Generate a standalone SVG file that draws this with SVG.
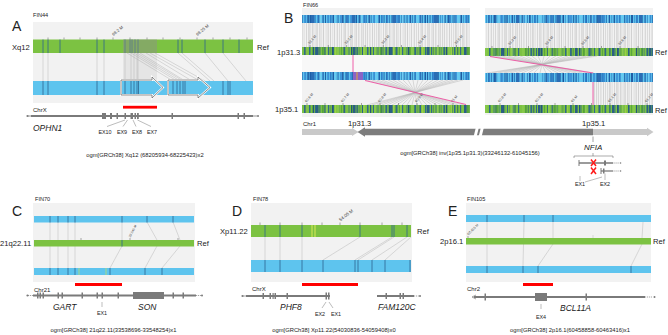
<svg xmlns="http://www.w3.org/2000/svg" width="668" height="335" viewBox="0 0 668 335">
<defs>
<style>
text{font-family:"Liberation Sans",Arial,sans-serif;fill:#222}
.lbl{font-size:7.6px}
.cap{font-size:5.8px}
.fin{font-size:5.6px}
.let{font-size:14px}
.ex{font-size:5.4px;text-anchor:middle}
.gene{font-size:8.5px;font-style:italic}
.chr{font-size:6px}
.tk{font-size:3.5px;fill:#444}
.bg{fill:#f2f2f2}
.gr{fill:#7cc242}
.bl{fill:#5ec4ee}
.dk{stroke:#2f6690;stroke-width:0.8}
.al{stroke:#b9b9b9;stroke-width:0.5;fill:none}
.chl{stroke:#7a7a7a;stroke-width:1.8}
.exn{fill:#7a7a7a}
.red{fill:#ff0000}
.pk{stroke:#ee4fa0;stroke-width:0.9;fill:none}
.tick{stroke:#555;stroke-width:0.5}
</style>
<pattern id="bcB1" width="23" height="10" patternUnits="userSpaceOnUse">
<rect width="23" height="10" fill="#5ec4ee"/>
<rect x="0.5" width="1.2" height="10" fill="#1d5ea8"/>
<rect x="3" width="0.6" height="10" fill="#2b74bd"/>
<rect x="5.2" width="2" height="10" fill="#3a8fd4"/>
<rect x="8" width="0.7" height="10" fill="#1d5ea8"/>
<rect x="10.5" width="1.5" height="10" fill="#1d5ea8"/>
<rect x="13.5" width="0.6" height="10" fill="#2b74bd"/>
<rect x="15.6" width="0.9" height="10" fill="#1d5ea8"/>
<rect x="18" width="2.2" height="10" fill="#3f95d8"/>
<rect x="21.2" width="0.6" height="10" fill="#1d5ea8"/>
</pattern>
<pattern id="bcB2" width="17" height="10" patternUnits="userSpaceOnUse">
<rect x="2" width="0.8" height="10" fill="#1a5299"/>
<rect x="7" width="1.6" height="10" fill="#2f80c8"/>
<rect x="12.5" width="0.7" height="10" fill="#1a5299"/>
</pattern>
<pattern id="bcB3" width="41" height="10" patternUnits="userSpaceOnUse">
<rect x="6" width="2.5" height="10" fill="#66c9f0"/>
<rect x="24" width="3" height="10" fill="#2a6db5"/>
<rect x="33" width="1.5" height="10" fill="#70cdf2"/>
</pattern>
<pattern id="bcG1" width="29" height="10" patternUnits="userSpaceOnUse">
<rect width="29" height="10" fill="#7cc242"/>
<rect x="0.6" width="0.8" height="10" fill="#2f6a8c"/>
<rect x="3.2" width="1.4" height="10" fill="#4a9a3a"/>
<rect x="5.8" width="0.6" height="10" fill="#2f6a8c"/>
<rect x="8.4" width="1.8" height="10" fill="#2f6a8c"/>
<rect x="11.6" width="0.6" height="10" fill="#3d7f60"/>
<rect x="14" width="1" height="10" fill="#2f6a8c"/>
<rect x="16.5" width="0.6" height="10" fill="#b9dc4a"/>
<rect x="19" width="1.5" height="10" fill="#2f6a8c"/>
<rect x="22.3" width="0.7" height="10" fill="#4a9a3a"/>
<rect x="25" width="1.2" height="10" fill="#2f6a8c"/>
</pattern>
<pattern id="bcG2" width="19" height="10" patternUnits="userSpaceOnUse">
<rect x="1.5" width="0.7" height="10" fill="#24577a"/>
<rect x="9" width="1.2" height="10" fill="#24577a"/>
<rect x="15" width="0.6" height="10" fill="#3d7f60"/>
</pattern>
<pattern id="bcG3" width="37" height="10" patternUnits="userSpaceOnUse">
<rect x="4" width="2.5" height="10" fill="#85c84a"/>
<rect x="20" width="2.6" height="10" fill="#2a5f84"/>
<rect x="30" width="1.8" height="10" fill="#8ccc4e"/>
</pattern>
<pattern id="alp" width="11" height="10" patternUnits="userSpaceOnUse">
<rect x="0.3" width="0.5" height="10" fill="#c2c2c2"/>
<rect x="2.6" width="0.5" height="10" fill="#cfcfcf"/>
<rect x="4" width="0.5" height="10" fill="#bdbdbd"/>
<rect x="6.8" width="0.5" height="10" fill="#c8c8c8"/>
<rect x="9.2" width="0.5" height="10" fill="#c4c4c4"/>
</pattern>
<pattern id="alp2" width="7" height="10" patternUnits="userSpaceOnUse">
<rect x="1.5" width="0.5" height="10" fill="#cacaca"/>
<rect x="5" width="0.4" height="10" fill="#d2d2d2"/>
</pattern>
<clipPath id="clipL"><rect x="302" y="8" width="168" height="109"/></clipPath>
<clipPath id="clipR"><rect x="485" y="8" width="168" height="107"/></clipPath>
</defs>

<!-- ================= PANEL A ================= -->
<g id="panelA">
<text class="let" x="12" y="31">A</text>
<text class="fin" x="33" y="17">FIN44</text>
<rect class="bg" x="33" y="22" width="220" height="81"/>
<text class="lbl" x="12" y="50">Xq12</text>
<text class="lbl" x="257" y="50">Ref</text>
<path class="al" d="M43 53V81M48 53V81M97 53V81M104 53V81M125 53V81M131 53V81M134 53V81M137 53V81M138 53V81
M127 53L173 81M131 53L177 81M134 53L180 81M137 53L183 81M140 53L185 81M146 53L192 81M150 53L200 81M155 53L205 81
M178 53L210 81M182 53L214 81M205 53L228 81M223 53L246 81"/>
<rect x="123" y="39.5" width="34" height="41.5" fill="#9a9a9a" opacity="0.15"/>
<rect class="gr" x="33" y="39.5" width="220" height="13.5"/>
<path class="dk" d="M43 39.5V53M48 39.5V53M60 39.5V53M97 39.5V53M104 39.5V53M125 39.5V53M130 39.5V53M132 39.5V53M135 39.5V53M138 39.5V53M178 39.5V53M182 39.5V53M205 39.5V53M223 39.5V53M239 39.5V53"/>
<rect x="123" y="39.5" width="34" height="13.5" fill="#8f8f8f" opacity="0.45"/>
<path class="tick" d="M48 37.5V39.5M64 37.5V39.5M80 37.5V39.5M97 37.5V39.5M113 37.5V39.5M130 37.5V39.5M147 37.5V39.5M163 37.5V39.5M180 37.5V39.5M197 37.5V39.5M213 37.5V39.5M230 37.5V39.5M247 37.5V39.5"/>
<text class="tk" style="font-size:4.2px" transform="translate(113.5 36) rotate(-40)">68.2 M</text>
<text class="tk" style="font-size:4.2px" transform="translate(197.5 36) rotate(-40)">68.25 M</text>
<rect class="bl" x="33" y="81" width="220" height="14"/>
<path class="dk" d="M43 81V95M48 81V95M97 81V95M104 81V95M125 81V95M131 81V95M134 81V95M137 81V95M138.5 81V95M173 81V95M177 81V95M180 81V95M183 81V95M185 81V95M223 81V95M228 81V95M230 81V95"/>
<g fill="none" stroke-linejoin="miter">
<path d="M121 80H152V77L163 87.5L152 98V95H121Z" stroke="#ffffff" stroke-width="2"/>
<path d="M121 80H152V77L163 87.5L152 98V95H121Z" stroke="#5a5a5a" stroke-width="0.7"/>
<path d="M168 80H198V77L210 87.5L198 98V95H168Z" stroke="#ffffff" stroke-width="2"/>
<path d="M168 80H198V77L210 87.5L198 98V95H168Z" stroke="#5a5a5a" stroke-width="0.7"/>
</g>
<rect class="red" x="123" y="105.8" width="34" height="2.8"/>
<text class="chr" x="33" y="111.5">ChrX</text>
<line class="chl" x1="31" y1="116" x2="253" y2="116"/>
<circle cx="27.5" cy="116" r="1.1" fill="#7a7a7a"/>
<line x1="28" y1="116" x2="31" y2="116" stroke="#7a7a7a" stroke-width="0.8"/>
<line x1="253" y1="116" x2="257" y2="116" stroke="#7a7a7a" stroke-width="0.8"/>
<circle cx="258" cy="116" r="1" fill="#7a7a7a"/>
<g class="exn">
<rect x="102" y="113" width="4" height="6"/><rect x="110" y="113" width="2" height="6"/>
<rect x="116.5" y="113" width="1.5" height="6"/><rect x="124.5" y="113" width="1.5" height="6"/>
<rect x="130.5" y="113" width="2.5" height="6"/><rect x="134.5" y="113" width="1.5" height="6"/>
<rect x="137" y="113" width="1.8" height="6"/><rect x="171.5" y="113" width="1.5" height="6"/>
<rect x="237.5" y="113" width="1.5" height="6"/><rect x="243.5" y="113" width="1.5" height="6"/>
</g>
<text class="gene" x="33" y="131">OPHN1</text>
<path stroke="#555" stroke-width="0.4" d="M125 120L107 126.5M127.5 120L123 126.5M133 120L136 126.5M137.5 120L151 126.5"/>
<text class="ex" x="105" y="134">EX10</text>
<text class="ex" x="122" y="134">EX9</text>
<text class="ex" x="137" y="134">EX8</text>
<text class="ex" x="152" y="134">EX7</text>
<text class="cap" x="145" y="157" text-anchor="middle">ogm[GRCh38] Xq12 (68205934-68225423)x2</text>
</g>

<!-- ================= PANEL B ================= -->
<g id="panelB">
<text class="let" x="284" y="23">B</text>
<text class="fin" x="303" y="6.5">FIN66</text>
<text class="lbl" x="277" y="55">1p31.3</text>
<text class="lbl" x="275" y="112">1p35.1</text>
<text class="lbl" x="655" y="55">Ref</text>
<text class="lbl" x="655" y="113">Ref</text>

<g id="winL" clip-path="url(#clipL)">
<rect class="bg" x="302" y="8" width="168" height="109"/>
<rect x="302" y="55" width="168" height="17" fill="#f8f8f8"/>
<rect x="302" y="23" width="168" height="24" fill="url(#alp)"/>
<rect x="302" y="23" width="168" height="24" fill="url(#alp2)"/>
<rect x="302" y="15" width="168" height="8" fill="url(#bcB1)"/>
<rect x="302" y="15" width="168" height="8" fill="url(#bcB2)"/>
<rect x="302" y="15" width="168" height="8" fill="url(#bcB3)"/>
<rect x="302" y="47" width="168" height="8" fill="url(#bcG1)"/>
<rect x="302" y="47" width="168" height="8" fill="url(#bcG2)"/>
<rect x="302" y="47" width="168" height="8" fill="url(#bcG3)"/>
<path class="tick" d="M310 45V47M328.3 45V47M346.6 45V47M365 45V47M383.2 45V47M401.5 45V47M420 45V47M438 45V47M456.5 45V47"/>
<text class="tk" transform="translate(309.5 44.5) rotate(-50)">33.1 M</text>
<text class="tk" transform="translate(346 44.5) rotate(-50)">33.2 M</text>
<text class="tk" transform="translate(382.7 44.5) rotate(-50)">33.3 M</text>
<text class="tk" transform="translate(419.5 44.5) rotate(-50)">33.4 M</text>
<text class="tk" transform="translate(456 44.5) rotate(-50)">33.5 M</text>
<rect x="302" y="72" width="168" height="8" fill="url(#bcB1)"/>
<rect x="302" y="72" width="168" height="8" fill="url(#bcB2)"/>
<rect x="302" y="72" width="168" height="8" fill="url(#bcB3)"/>
<rect x="353" y="72" width="10" height="8" fill="#8a64c6"/>
<rect x="356.5" y="72" width="1" height="8" fill="#e4a536"/>
<path class="al" d="M366 80L464 105M372 80L458 105M377 80L453 105M382 80L448 105M388 80L442 105M393 80L437 105M398 80L432 105M403 80L427 105M408 80L422 105M413 80L417 105M418 80L412 105M423 80L407 105M428 80L402 105M433 80L397 105M438 80L392 105M443 80L387 105M448 80L382 105M453 80L377 105M458 80L372 105M463 80L367 105"/>
<rect x="302" y="105" width="168" height="8" fill="url(#bcG1)"/>
<rect x="302" y="105" width="168" height="8" fill="url(#bcG2)"/>
<rect x="302" y="105" width="168" height="8" fill="url(#bcG3)"/>
<path class="tick" d="M307 103V105M325 103V105M343 103V105M361.5 103V105M380 103V105M398.5 103V105M417 103V105M435 103V105M453 103V105"/>
<text class="tk" transform="translate(306.5 102.5) rotate(-50)">60.6 M</text>
<text class="tk" transform="translate(342.5 102.5) rotate(-50)">60.7 M</text>
<text class="tk" transform="translate(379.5 102.5) rotate(-50)">60.8 M</text>
<text class="tk" transform="translate(416.5 102.5) rotate(-50)">60.9 M</text>
<text class="tk" transform="translate(452.5 102.5) rotate(-50)">61 M</text>
<path class="pk" d="M353 55V72M365 80.5L466 104.5"/>
</g>

<g id="winR" clip-path="url(#clipR)">
<rect class="bg" x="485" y="8" width="168" height="107"/>
<rect x="485" y="23" width="168" height="25" fill="url(#alp)"/>
<rect x="485" y="23" width="168" height="25" fill="url(#alp2)"/>
<rect x="593" y="82" width="60" height="23" fill="url(#alp)"/>
<rect x="593" y="82" width="60" height="23" fill="url(#alp2)"/>
<rect x="485" y="15" width="168" height="8" fill="url(#bcB1)"/>
<rect x="485" y="15" width="168" height="8" fill="url(#bcB2)"/>
<rect x="485" y="15" width="168" height="8" fill="url(#bcB3)"/>
<rect x="485" y="48" width="168" height="8" fill="url(#bcG1)"/>
<rect x="485" y="48" width="168" height="8" fill="url(#bcG2)"/>
<rect x="485" y="48" width="168" height="8" fill="url(#bcG3)"/>
<path class="tick" d="M492 46V48M510 46V48M528.5 46V48M547 46V48M565 46V48M583 46V48M601.5 46V48M620 46V48M638 46V48"/>
<text class="tk" transform="translate(509.5 45.5) rotate(-50)">33.3 M</text>
<text class="tk" transform="translate(546.5 45.5) rotate(-50)">33.4 M</text>
<text class="tk" transform="translate(582.5 45.5) rotate(-50)">33.5 M</text>
<text class="tk" transform="translate(619.5 45.5) rotate(-50)">33.6 M</text>
<path class="al" d="M490 56L594 73M496 56L588 73M502 56L582 73M508 56L576 73M514 56L570 73M520 56L564 73M526 56L558 73M532 56L552 73M538 56L546 73M544 56L540 73M550 56L534 73M556 56L528 73M562 56L522 73M568 56L516 73M574 56L510 73M580 56L504 73M586 56L498 73M592 56L492 73M597 56L487 73"/>
<rect x="485" y="73" width="168" height="9" fill="url(#bcB1)"/>
<rect x="485" y="73" width="168" height="9" fill="url(#bcB2)"/>
<rect x="485" y="73" width="168" height="9" fill="url(#bcB3)"/>
<rect x="485" y="105" width="168" height="8" fill="url(#bcG1)"/>
<rect x="485" y="105" width="168" height="8" fill="url(#bcG2)"/>
<rect x="485" y="105" width="168" height="8" fill="url(#bcG3)"/>
<path class="tick" d="M500 103V105M518.5 103V105M537 103V105M555 103V105M573 103V105M591.5 103V105M610 103V105M628 103V105M647 103V105"/>
<text class="tk" transform="translate(499.5 102.5) rotate(-50)">60.8 M</text>
<text class="tk" transform="translate(536.5 102.5) rotate(-50)">60.9 M</text>
<text class="tk" transform="translate(572.5 102.5) rotate(-50)">61 M</text>
<text class="tk" transform="translate(609.5 102.5) rotate(-50)">61.1 M</text>
<text class="tk" transform="translate(646.5 102.5) rotate(-50)">61.2 M</text>
<path class="pk" d="M490 56.5L593 73M593 82V105"/>
</g>

<text class="chr" x="303" y="126">Chr1</text>
<text class="lbl" x="348" y="126">1p31.3</text>
<text class="lbl" x="582" y="126">1p35.1</text>
<polygon points="302,129 352,129 352,128 358.5,132 352,136 352,135 302,135" fill="#c9c9c9"/>
<polygon points="357.5,132 365,127.3 365,128.8 593,128.8 593,135.2 365,135.2 365,136.7" fill="#7d7d7d"/>
<polygon points="476,127 479,127 476.5,137 473.5,137" fill="#ffffff"/>
<polygon points="481,127 484,127 481.5,137 478.5,137" fill="#ffffff"/>
<polygon points="593,129 647,129 647,127.8 653.5,132 647,136.2 647,135 593,135" fill="#c9c9c9"/>
<line x1="593" y1="136.5" x2="593" y2="142" stroke="#666" stroke-width="0.6"/>
<text class="cap" x="470" y="155" text-anchor="middle">ogm[GRCh38] inv(1p35.1p31.3)(33246132-61045156)</text>

<text class="gene" x="584" y="150" style="font-size:8px">NFIA</text>
<path d="M574 158V156H613V158M593 156V153" fill="none" stroke="#555" stroke-width="0.5"/>
<line x1="579" y1="163" x2="613" y2="163" stroke="#7a7a7a" stroke-width="1.3"/>
<line x1="579" y1="160" x2="579" y2="166" stroke="#7a7a7a" stroke-width="1"/>
<rect x="604" y="160.5" width="2" height="5" fill="#7a7a7a"/>
<line x1="613.5" y1="163" x2="619" y2="163" stroke="#7a7a7a" stroke-width="0.7" stroke-dasharray="1.2 0.8"/>
<circle cx="620.5" cy="163" r="0.8" fill="#7a7a7a"/>
<line x1="601" y1="171" x2="613" y2="171" stroke="#7a7a7a" stroke-width="1.3"/>
<line x1="601" y1="168" x2="601" y2="174" stroke="#7a7a7a" stroke-width="1"/>
<rect x="603" y="168.5" width="1.5" height="5" fill="#7a7a7a"/>
<line x1="613.5" y1="171" x2="619" y2="171" stroke="#7a7a7a" stroke-width="0.7" stroke-dasharray="1.2 0.8"/>
<circle cx="620.5" cy="171" r="0.8" fill="#7a7a7a"/>
<path d="M591 159.5L596 166M596 159.5L591 166M591 167.5L596 174M596 167.5L591 174" stroke="#ff1a1a" stroke-width="1.5"/>
<path d="M580 176V181M585 182L602 177M605 173.5V180" stroke="#555" stroke-width="0.4"/>
<text class="ex" x="580" y="186">EX1</text>
<text class="ex" x="605" y="186">EX2</text>
</g>

<!-- ================= PANEL C ================= -->
<g id="panelC">
<text class="let" x="12" y="216">C</text>
<text class="fin" x="35" y="201">FIN70</text>
<rect class="bg" x="33" y="203" width="162" height="79"/>
<text class="lbl" x="0" y="246">21q22.11</text>
<text class="lbl" x="197" y="246">Ref</text>
<path class="al" d="M50 222V268M58 222V268M68 222V268M75 222V268M122 222V240M122 246L110 268M147 222L157 240M157 246L145 268M173 222L180 240M180 246L162 268"/>
<rect class="bl" x="34" y="216" width="160" height="6.5"/>
<path class="dk" d="M50 216V222.5M58 216V222.5M68 216V222.5M75 216V222.5M122 216V222.5M147 216V222.5M173 216V222.5"/>
<rect class="gr" x="34" y="240" width="160" height="6.5"/>
<path class="dk" d="M122 240V246.5"/>
<path class="tick" d="M81 238V240M178 238V240M130 238V240"/>
<text class="tk" style="font-size:3.2px" transform="translate(130.5 237.5) rotate(-62)">33.545 M</text>
<rect class="bl" x="34" y="268" width="160" height="7"/>
<path class="dk" d="M50 268V275M58 268V275M68 268V275M75 268V275M110 268V275M145 268V275M162 268V275"/>
<path stroke="#b9e06a" stroke-width="0.8" d="M79 268V275M106 268V275"/>
<rect class="red" x="75" y="283" width="47" height="3"/>
<text class="chr" x="34" y="292">Chr21</text>
<line class="chl" x1="33" y1="295.5" x2="196" y2="295.5"/>
<circle cx="27.5" cy="295.5" r="1.1" fill="#7a7a7a"/>
<line x1="28" y1="295.5" x2="33" y2="295.5" stroke="#7a7a7a" stroke-width="0.7" stroke-dasharray="1.2 0.8"/>
<line x1="196" y1="295.5" x2="201" y2="295.5" stroke="#7a7a7a" stroke-width="0.7" stroke-dasharray="1.2 0.8"/>
<circle cx="202" cy="295.5" r="1" fill="#7a7a7a"/>
<g class="exn">
<rect x="37" y="292.5" width="1.5" height="6"/><rect x="39.5" y="292.5" width="1.5" height="6"/><rect x="42.5" y="292.5" width="1.5" height="6"/>
<rect x="57.5" y="292.5" width="1.5" height="6"/><rect x="61.5" y="292.5" width="1.5" height="6"/>
<rect x="81.5" y="292.5" width="1.5" height="6"/><rect x="96.5" y="292.5" width="1.5" height="6"/>
<rect x="101.5" y="292.5" width="1.5" height="6"/><rect x="117.5" y="292.5" width="1.5" height="6"/>
<rect x="133" y="292" width="31" height="7"/>
<rect x="172.5" y="292.5" width="1.5" height="6"/><rect x="182.5" y="292.5" width="1.5" height="6"/>
</g>
<line x1="102" y1="302" x2="102" y2="307" stroke="#555" stroke-width="0.4"/>
<text class="gene" x="53" y="310">GART</text>
<text class="gene" x="138" y="310">SON</text>
<text class="ex" x="102" y="315">EX1</text>
<text class="cap" x="113.5" y="332" text-anchor="middle">ogm[GRCh38] 21q22.11(33538696-33548254)x1</text>
</g>

<!-- ================= PANEL D ================= -->
<g id="panelD">
<text class="let" x="232" y="216">D</text>
<text class="fin" x="253" y="201">FIN78</text>
<rect class="bg" x="251" y="203" width="161" height="79"/>
<text class="lbl" x="220" y="234">Xp11.22</text>
<text class="lbl" x="417" y="234">Ref</text>
<path class="al" d="M265 237V260M280 237V260M302 237V260M360 237L323 260M392 237L355 260M394 237L358 260M407 237L372 260M411 237L385 260"/>
<rect class="gr" x="251" y="225" width="160" height="12"/>
<path class="dk" d="M265 225V237M280 225V237M302 225V237M360 225V237M392 225V237M394 225V237M407 225V237"/>
<path stroke="#e8ef5a" stroke-width="0.9" d="M312 225V237M315 225V237"/>
<path class="tick" d="M260 222.5V225M280 222.5V225M302 222.5V225M322 222.5V225M340 222.5V225M360 222.5V225M382 222.5V225M402 222.5V225"/>
<text class="tk" style="font-size:4.6px" transform="translate(340.5 221.5) rotate(-38)">54.05 M</text>
<rect class="bl" x="251" y="260" width="160" height="12"/>
<path class="dk" d="M265 260V272M280 260V272M302 260V272M323 260V272M355 260V272M358 260V272M372 260V272M385 260V272M410 260V272"/>
<rect class="red" x="302" y="283" width="56" height="3"/>
<text class="chr" x="252" y="291">ChrX</text>
<line class="chl" x1="246" y1="296" x2="330" y2="296"/>
<circle cx="242.5" cy="296" r="1.1" fill="#7a7a7a"/>
<line x1="243" y1="296" x2="246" y2="296" stroke="#7a7a7a" stroke-width="0.7"/>
<line class="chl" x1="377" y1="296" x2="414" y2="296"/>
<line x1="414" y1="296" x2="419" y2="296" stroke="#7a7a7a" stroke-width="0.7" stroke-dasharray="1.2 0.8"/>
<circle cx="420" cy="296" r="1" fill="#7a7a7a"/>
<g class="exn">
<rect x="262.5" y="293" width="1.5" height="6"/><rect x="269.5" y="293" width="1.5" height="6"/>
<rect x="272.5" y="293" width="1.2" height="6"/><rect x="274.5" y="293" width="1.5" height="6"/>
<rect x="286.5" y="293" width="1.5" height="6"/>
<rect x="325.5" y="292.5" width="1.5" height="7"/><rect x="328" y="292.5" width="1.5" height="7"/>
<rect x="385.5" y="293" width="1.5" height="6"/><rect x="399.5" y="293" width="1.5" height="6"/><rect x="402.5" y="293" width="1.5" height="6"/>
</g>
<path stroke="#555" stroke-width="0.4" d="M326 302L322 308M329 302L333 308"/>
<text class="gene" x="280" y="310">PHF8</text>
<text class="gene" x="378" y="310">FAM120C</text>
<text class="ex" x="320" y="316">EX2</text>
<text class="ex" x="336" y="316">EX1</text>
<text class="cap" x="334" y="332" text-anchor="middle">ogm[GRCh38] Xp11.22(54030836-54059408)x0</text>
</g>

<!-- ================= PANEL E ================= -->
<g id="panelE">
<text class="let" x="448" y="216">E</text>
<text class="fin" x="467" y="201">FIN105</text>
<rect class="bg" x="466" y="203" width="185" height="79"/>
<text class="lbl" x="440" y="244">2p16.1</text>
<text class="lbl" x="653" y="244">Ref</text>
<path class="al" d="M487 222V266M524 222L523 266M553 222V238M553 244L538 266M643 222L642 238M642 244L631 266M593 235V238"/>
<rect class="bl" x="466" y="215" width="185" height="7"/>
<path class="dk" d="M487 215V222M524 215V222M553 215V222"/>
<rect class="gr" x="466" y="238" width="185" height="6.5"/>
<path class="tick" d="M468 236V238"/>
<text class="tk" style="font-size:3.5px" transform="translate(468.5 235.5) rotate(-45)">60.455 M</text>
<rect class="bl" x="466" y="266" width="185" height="7"/>
<path class="dk" d="M487 266V273M523 266V273M538 266V273M631 266V273"/>
<rect class="red" x="523" y="283" width="30" height="3"/>
<text class="chr" x="467" y="291">Chr2</text>
<line class="chl" x1="474" y1="297" x2="645" y2="297"/>
<path d="M476 295L472 297L476 299" fill="none" stroke="#7a7a7a" stroke-width="0.7"/>
<line x1="645" y1="297" x2="652" y2="297" stroke="#7a7a7a" stroke-width="0.7" stroke-dasharray="1.2 0.8"/>
<circle cx="654.5" cy="297" r="1" fill="#7a7a7a"/>
<g class="exn">
<rect x="484.5" y="293.5" width="1.5" height="7"/>
<rect x="535" y="293" width="12" height="8"/>
<rect x="585.5" y="293.5" width="1.5" height="7"/>
</g>
<line x1="541" y1="304" x2="541" y2="309" stroke="#555" stroke-width="0.4"/>
<text class="gene" x="560" y="311">BCL11A</text>
<text class="ex" x="541" y="319">EX4</text>
<text class="cap" x="570" y="332" text-anchor="middle">ogm[GRCh38] 2p16.1(60458858-60463416)x1</text>
</g>
</svg>
